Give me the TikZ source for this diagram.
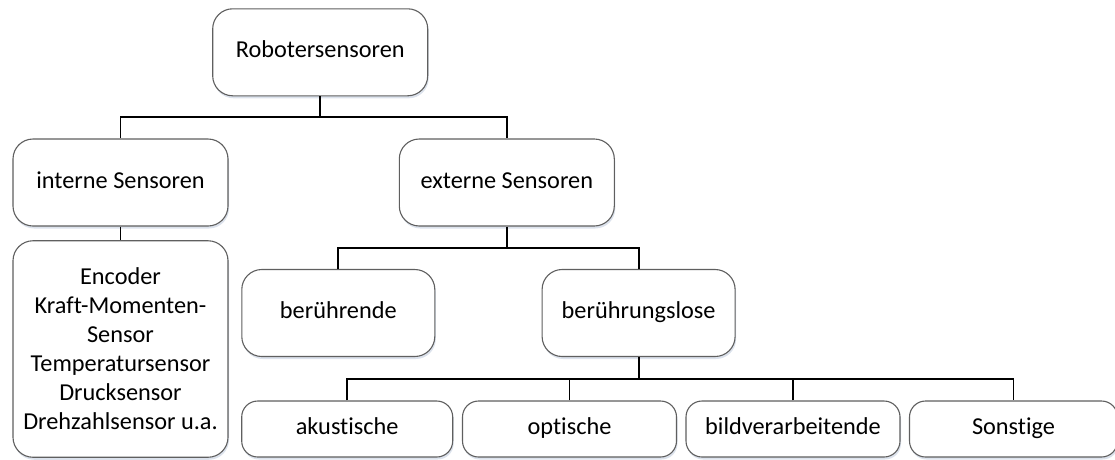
\documentclass[tikz,border=0pt]{standalone}
\usepackage{fontspec}
\setmainfont{Carlito}[Ligatures=NoCommon]
\usetikzlibrary{shadows}
\definecolor{boxgray}{RGB}{95,95,95}
\definecolor{shadowblue}{RGB}{205,214,228}
\begin{document}
\begin{tikzpicture}[x=1pt,y=-1pt,
  box/.style={draw=boxgray, line width=1.1pt, rounded corners=20pt, fill=white,
    align=center, inner sep=0pt, font=\fontsize{24.3}{29}\selectfont,
    drop shadow={shadow xshift=1pt, shadow yshift=-2.5pt, fill=shadowblue, opacity=0.7}},
  single/.style={box, text height=16pt, text depth=5pt},
  leaf/.style={single, rounded corners=16pt, minimum width=214pt, minimum height=56pt},
  link/.style={line width=1.8pt, black}]
\useasboundingbox (0,0) rectangle (1115,459);

% tree levels
\node[single, minimum width=215pt, minimum height=87pt] (robo)   at (320.2,52.3)  {Robotersensoren};
\node[single, minimum width=215pt, minimum height=87pt] (intern) at (120.5,182.5) {interne Sensoren};
\node[single, minimum width=215pt, minimum height=87pt] (extern) at (506.8,182.5) {externe Sensoren};
\node[box, minimum width=215pt, minimum height=216.5pt] (list) at (120.5,349)
  {Encoder\\Kraft-Momenten-\\Sensor\\Temperatursensor\\Drucksensor\\Drehzahlsensor u.a.};
\node[single, minimum width=193pt, minimum height=87pt] (ber) at (338.3,313) {berührende};
\node[single, minimum width=193pt, minimum height=87pt] (los) at (638.6,313) {berührungslose};
\node[leaf, minimum width=211pt] (ak)    at (347.2,429) {akustische};
\node[leaf] (opt)   at (569.5,429) {optische};
\node[leaf] (bild)  at (793,429)   {bildverarbeitende};
\node[leaf, minimum width=208pt] (sonst) at (1013.5,429) {Sonstige};

% branch points
\coordinate (b1) at (320.2,117.3);
\coordinate (b2) at (506.8,247.7);
\coordinate (b3) at (638.6,378.8);

% connectors
\draw[link] (robo.south) -- (b1);
\draw[link] (intern.north) |- (b1) -| (extern.north);
\draw[link] (intern.south) -- (list.north);
\draw[link] (extern.south) -- (b2);
\draw[link] (ber.north) |- (b2) -| (los.north);
\draw[link] (los.south) -- (b3);
\draw[link] (ak.north) |- (b3) -| (sonst.north);
\draw[link] (opt.north) -- (opt.north |- b3);
\draw[link] (bild.north) -- (bild.north |- b3);
\end{tikzpicture}
\end{document}
